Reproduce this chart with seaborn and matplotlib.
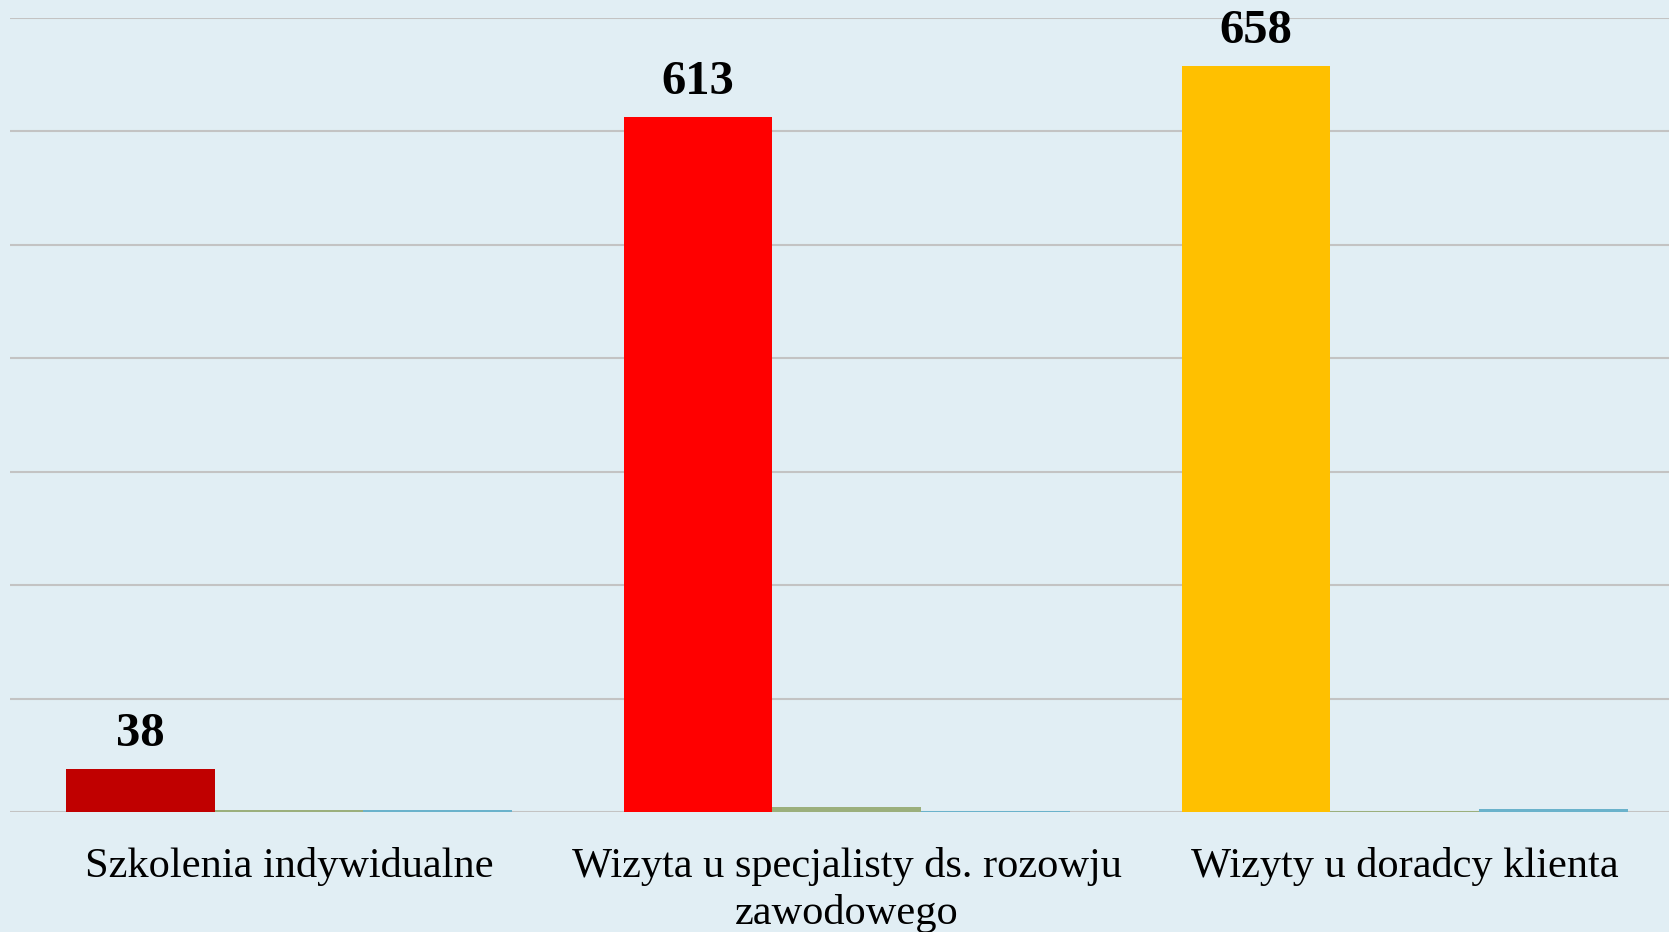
import pandas as pd
import numpy as np
import matplotlib.pyplot as plt
import seaborn as sns

# =========================
# DATA
# =========================
categories = [
    "Szkolenia indywidualne",
    "Wizyta u specjalisty ds. rozowju\nzawodowego",
    "Wizyty u doradcy klienta",
]
series_names = ["Seria 1", "Seria 2", "Seria 3"]
seria_1 = [38, 613, 658]
seria_2 = [1.5, 4, 1]
seria_3 = [1.5, 1, 3]

first_colors = ["#C00000", "#FF0000", "#FFC000"]
series_colors = ["#C00000", "#9BAF7C", "#6AB2CB"]

df = pd.DataFrame({
    "kategoria": categories * 3,
    "seria": np.repeat(series_names, 3),
    "wartosc": seria_1 + seria_2 + seria_3,
})

# =========================
# PLOT
# =========================
bg = "#E1EEF4"
sns.set_style("white")
plt.rcParams["font.family"] = ["Liberation Serif", "DejaVu Serif"]

fig = plt.figure(figsize=(16.69, 9.32), dpi=100, facecolor=bg)
ax = fig.add_axes([0.0061, 0.1288, 1.0026, 0.8519])
ax.set_facecolor(bg)

sns.barplot(
    data=df, x="kategoria", y="wartosc", hue="seria",
    palette=series_colors, order=categories, hue_order=series_names,
    width=0.8, saturation=1, legend=False, ax=ax, zorder=3,
    linewidth=0, edgecolor="none",
)

# per-category colours for the first series
for patch, c in zip(ax.containers[0], first_colors):
    patch.set_facecolor(c)

ax.bar_label(ax.containers[0], labels=[str(v) for v in seria_1],
             padding=9, fontsize=35, fontweight="bold", color="black")

ax.set_ylim(0, 700)
ax.set_xlim(-0.5, 2.5)
ax.set_yticks(np.arange(0, 701, 100))
ax.set_yticklabels([])
ax.yaxis.grid(True, color="#C3C3C3", linewidth=1.5, zorder=0)
ax.set_axisbelow(True)
for s in ax.spines.values():
    s.set_visible(False)

ax.set_xlabel("")
ax.set_ylabel("")
ax.tick_params(axis="x", length=0, pad=25, labelsize=30.5, labelcolor="black")
ax.tick_params(axis="y", length=0)
for lbl in ax.get_xticklabels():
    lbl.set_linespacing(1.28)

fig.savefig("out.png", dpi=100, facecolor=bg)
